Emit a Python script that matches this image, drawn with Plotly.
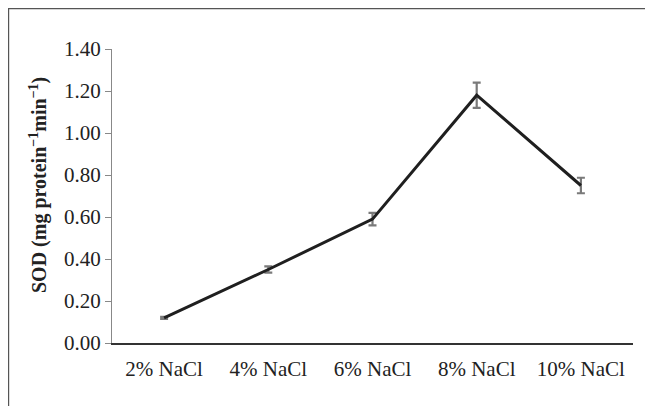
import plotly.graph_objects as go

categories = ["2% NaCl", "4% NaCl", "6% NaCl", "8% NaCl", "10% NaCl"]
sod_values = [0.12, 0.35, 0.59, 1.18, 0.75]
sod_errors = [0.005, 0.015, 0.03, 0.06, 0.037]
y_ticks = [0.0, 0.2, 0.4, 0.6, 0.8, 1.0, 1.2, 1.4]
y_tick_labels = ["0.00", "0.20", "0.40", "0.60", "0.80", "1.00", "1.20", "1.40"]
y_title = "<b>SOD (mg protein<sup>−1</sup>min<sup>−1</sup>)</b>"

W, H = 645, 398
L, R, T, B = 104, 20, 41, 63
pw, ph = W - L - R, H - T - B

fig = go.Figure()
fig.add_trace(go.Scatter(
    x=categories, y=sod_values, mode="lines",
    line=dict(color="#1f1f1f", width=3),
    error_y=dict(type="data", array=sod_errors, visible=True,
                 color="#7a7a7a", thickness=2.2, width=4),
    showlegend=False,
))

fig.add_annotation(
    text=y_title, textangle=-90, xref="paper", yref="paper",
    x=(30 - L) / pw, y=1 - (177 - T) / ph, xanchor="center", yanchor="middle",
    showarrow=False, font=dict(size=20, family="Liberation Serif", color="#222"),
)

fig.update_layout(
    width=W, height=H,
    margin=dict(l=L, r=R, t=T, b=B),
    paper_bgcolor="white", plot_bgcolor="white",
    font=dict(family="Liberation Serif", color="#222", size=21),
    xaxis=dict(range=[-0.5, 4.5], showline=True, linecolor="#333", linewidth=1.5,
               ticks="", showgrid=False, tickfont=dict(size=21),
               ticklabelstandoff=6),
    yaxis=dict(range=[0, 1.4], tickvals=y_ticks, ticktext=y_tick_labels,
               showline=True, linecolor="#888", linewidth=1,
               ticks="outside", ticklen=6, tickcolor="#888",
               showgrid=False, zeroline=False, tickfont=dict(size=21)),
    shapes=[dict(type="rect", xref="paper", yref="paper",
                 x0=(-L + 0.6) / pw, x1=1.5, y0=-0.5, y1=(ph + T - 0.6) / ph,
                 line=dict(color="#555", width=1.2), layer="below")],
)

fig.write_html("out.html")
